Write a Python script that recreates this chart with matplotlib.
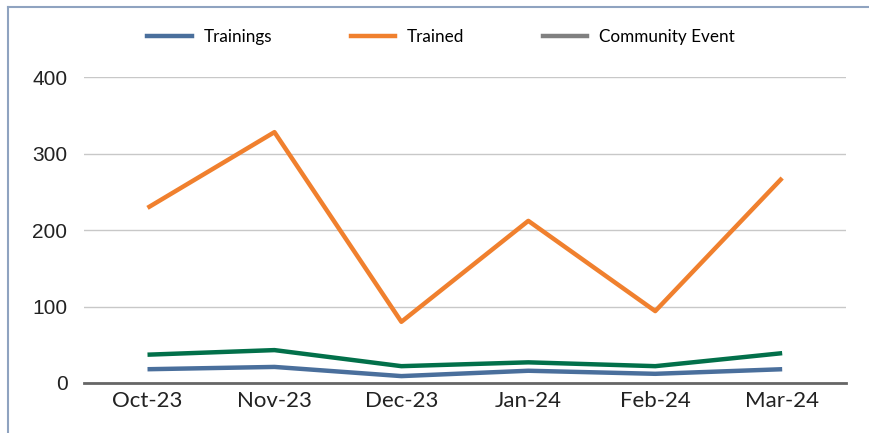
import matplotlib.pyplot as plt
from matplotlib.lines import Line2D

# data
months = ["Oct-23", "Nov-23", "Dec-23", "Jan-24", "Feb-24", "Mar-24"]
trainings = [18, 21, 9, 16, 12, 18]
trained = [229, 328, 80, 212, 94, 268]
community = [37, 43, 22, 27, 22, 39]
y_ticks = [0, 100, 200, 300, 400]

fig = plt.figure(figsize=(8.7, 4.33), dpi=100)
ax = fig.add_axes([0.0966, 0.1155, 0.8754, 0.7065])

x = list(range(len(months)))
ax.plot(x, trainings, color="#4a6f9c", lw=3.2, solid_capstyle="butt", zorder=3)
ax.plot(x, trained, color="#f0802e", lw=3.2, solid_capstyle="butt", zorder=3)
ax.plot(x, community, color="#02704a", lw=3.2, solid_capstyle="butt", zorder=3)

ax.set_xlim(-0.5, len(months) - 0.5)
ax.set_ylim(0, 400)
ax.set_yticks(y_ticks)
ax.set_yticklabels([str(t) for t in y_ticks], family="Liberation Sans", fontsize=15, color="#222222")
ax.set_xticks(x)
ax.set_xticklabels(months, family="Lato", fontsize=16, color="#222222")
ax.tick_params(axis="both", length=0)
ax.tick_params(axis="y", pad=12)
ax.tick_params(axis="x", pad=6)

ax.grid(axis="y", color="#c8c8c8", lw=1)
ax.set_axisbelow(True)
for s in ["top", "right", "left"]:
    ax.spines[s].set_visible(False)
ax.spines["bottom"].set_color("#666666")
ax.spines["bottom"].set_linewidth(2)
ax.spines["bottom"].set_zorder(4)

# legend
handles = [Line2D([], [], color="#4a6f9c", lw=3.2),
           Line2D([], [], color="#f0802e", lw=3.2),
           Line2D([], [], color="#808080", lw=3.2)]
fig.legend(handles, ["Trainings", "Trained", "Community Event"],
           loc="center", bbox_to_anchor=(0.507, 0.914), ncol=3, frameon=False,
           prop={"family": "Lato", "size": 12.3}, handlelength=2.6,
           handletextpad=0.7, columnspacing=4.6)

# outer border (left and top only)
fig.add_artist(Line2D([0.0095, 0.0095], [0, 0.984], color="#8fa3c0", lw=1.5))
fig.add_artist(Line2D([0.0095, 1], [0.984, 0.984], color="#8fa3c0", lw=1.5))

fig.savefig("out.png", dpi=100)
